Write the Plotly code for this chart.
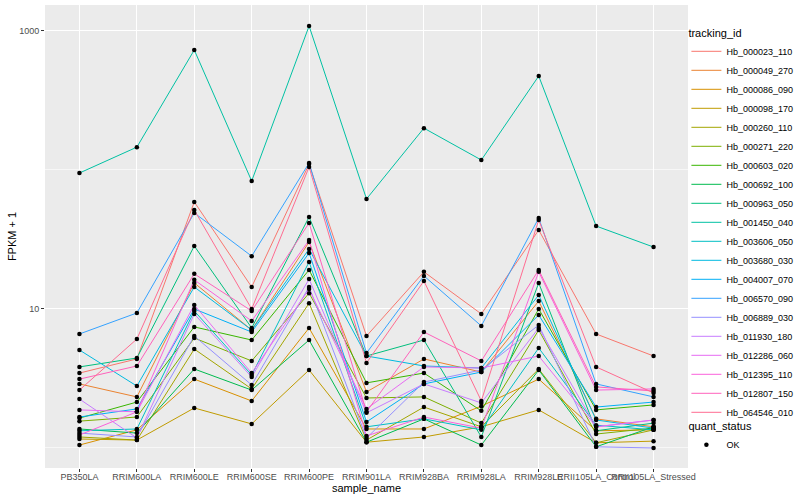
import plotly.graph_objects as go

samples = ["PB350LA", "RRIM600LA", "RRIM600LE", "RRIM600SE", "RRIM600PE", "RRIM901LA",
           "RRIM928BA", "RRIM928LA", "RRIM928LE", "RRII105LA_Control", "RRII105LA_Stressed"]

tracking_ids = ["Hb_000023_110", "Hb_000049_270", "Hb_000086_090", "Hb_000098_170", "Hb_000260_110",
                "Hb_000271_220", "Hb_000603_020", "Hb_000692_100", "Hb_000963_050", "Hb_001450_040",
                "Hb_003606_050", "Hb_003680_030", "Hb_004007_070", "Hb_006570_090", "Hb_006889_030",
                "Hb_011930_180", "Hb_012286_060", "Hb_012395_110", "Hb_012807_150", "Hb_064546_010"]

colors = ["#F8766D", "#EA8331", "#D89000", "#C09B00", "#A3A500", "#7CAE00", "#39B600", "#00BB4E",
          "#00BF7D", "#00C1A3", "#00BFC4", "#00BAE0", "#00B0F6", "#35A2FF", "#9590FF", "#C77CFF",
          "#E76BF3", "#FA62DB", "#FF62BC", "#FF6C91"]

# FPKM + 1 per sample, in the order of `samples`
hb_000023_110 = [3.46, 4.37, 58.9, 14.4, 110.4, 6.39, 18.5, 9.21, 37.0, 6.61, 4.59]
hb_000049_270 = [2.89, 2.33, 15.4, 7.06, 30.3, 2.53, 4.37, 3.52, 11.4, 1.62, 1.42]
hb_000086_090 = [1.05, 1.35, 3.13, 2.18, 7.30, 1.37, 1.37, 2.00, 3.13, 1.33, 1.35]
hb_000098_170 = [1.16, 1.14, 1.94, 1.49, 3.64, 1.10, 1.20, 1.42, 1.88, 1.09, 1.12]
hb_000260_110 = [1.20, 1.14, 5.15, 2.66, 11.0, 1.14, 1.97, 1.42, 3.70, 1.09, 1.35]
hb_000271_220 = [1.56, 1.67, 6.18, 4.23, 13.0, 2.29, 2.33, 1.51, 7.06, 1.26, 1.39]
hb_000603_020 = [1.64, 2.14, 7.43, 5.98, 19.1, 2.94, 3.46, 1.85, 10.0, 1.88, 2.04]
hb_000692_100 = [1.37, 1.28, 3.70, 2.61, 5.98, 1.10, 1.62, 1.05, 3.64, 1.02, 1.42]
hb_000963_050 = [3.83, 4.44, 28.4, 7.30, 45.9, 4.59, 5.98, 1.20, 15.4, 1.33, 1.51]
hb_001450_040 = [95.1, 146.0, 730.0, 83.3, 1086.0, 61.9, 200.0, 118.0, 474.0, 39.5, 27.9]
hb_003606_050 = [1.33, 1.37, 9.68, 3.35, 21.8, 1.42, 1.62, 1.35, 5.24, 1.46, 1.35]
hb_003680_030 = [5.07, 2.79, 14.4, 7.06, 27.0, 4.59, 3.89, 3.76, 12.6, 1.59, 1.39]
hb_004007_070 = [1.67, 1.91, 10.0, 6.83, 25.3, 1.54, 2.89, 3.52, 9.05, 1.97, 2.14]
hb_006570_090 = [6.61, 9.36, 49.1, 24.0, 112.2, 4.82, 17.3, 7.55, 45.1, 2.89, 2.33]
hb_006889_030 = [1.28, 1.20, 6.39, 2.84, 14.4, 1.18, 2.98, 3.64, 7.67, 1.02, 1.00]
hb_011930_180 = [2.25, 1.18, 9.21, 3.24, 16.4, 1.79, 2.89, 2.11, 7.30, 1.42, 1.59]
hb_012286_060 = [1.88, 1.82, 10.7, 3.46, 13.9, 1.91, 3.83, 3.76, 4.59, 1.42, 1.59]
hb_012395_110 = [1.24, 1.82, 16.2, 8.20, 31.3, 1.22, 1.67, 1.39, 18.5, 2.61, 2.66]
hb_012807_150 = [3.13, 3.89, 17.9, 9.68, 41.6, 1.82, 6.83, 4.23, 19.1, 2.75, 2.57]
hb_064546_010 = [2.61, 6.08, 51.5, 10.0, 105.1, 4.09, 15.9, 2.18, 43.7, 3.83, 2.49]

series_values = [hb_000023_110, hb_000049_270, hb_000086_090, hb_000098_170, hb_000260_110,
                 hb_000271_220, hb_000603_020, hb_000692_100, hb_000963_050, hb_001450_040,
                 hb_003606_050, hb_003680_030, hb_004007_070, hb_006570_090, hb_006889_030,
                 hb_011930_180, hb_012286_060, hb_012395_110, hb_012807_150, hb_064546_010]

quant_status = "OK"

FONT = "Liberation Sans, Arial, Helvetica, sans-serif"

fig = go.Figure()
for tid, col, vals in zip(tracking_ids, colors, series_values):
    fig.add_trace(go.Scatter(x=samples, y=vals, mode="lines", name=tid,
                             line=dict(color=col, width=1), legend="legend",
                             hoverinfo="skip"))

all_x = [s for vals in series_values for s in samples]
all_y = [v for vals in series_values for v in vals]
fig.add_trace(go.Scatter(x=all_x, y=all_y, mode="markers", name=quant_status,
                         marker=dict(color="black", size=4.5, symbol="circle"),
                         legend="legend2"))

fig.update_layout(
    width=800, height=500,
    margin=dict(l=45, r=112, t=5, b=32, autoexpand=False),
    paper_bgcolor="white", plot_bgcolor="#EBEBEB",
    font=dict(family=FONT, color="black"),
    showlegend=True,
    legend=dict(xref="container", yref="container", x=0.858, xanchor="left",
                y=0.955, yanchor="top", maxheight=480,
                title=dict(text="tracking_id", font=dict(size=11, color="black")),
                font=dict(size=9, color="black"), bgcolor="rgba(0,0,0,0)",
                tracegroupgap=0, itemwidth=30),
    legend2=dict(xref="container", yref="container", x=0.858, xanchor="left",
                 y=0.168, yanchor="top",
                 title=dict(text="quant_status", font=dict(size=11, color="black")),
                 font=dict(size=9, color="black"), bgcolor="rgba(0,0,0,0)"),
    xaxis=dict(type="category", categoryorder="array", categoryarray=samples,
               range=[-0.6, 10.6], tickangle=0, ticks="outside", ticklen=3,
               tickcolor="#333333", tickfont=dict(size=9, color="#4D4D4D"),
               ticklabelstandoff=-3,
               showgrid=True, gridcolor="white", gridwidth=1, zeroline=False,
               showline=False, automargin=False,
               title=dict(text="sample_name", font=dict(size=11, color="black"), standoff=0)),
    yaxis=dict(type="log", range=[-0.144, 3.187], tickvals=[10, 1000], ticktext=["10", "1000"],
               ticks="outside", ticklen=3, tickcolor="#333333",
               tickfont=dict(size=9, color="#4D4D4D"),
               showgrid=True, gridcolor="white", gridwidth=1, zeroline=False,
               showline=False, automargin=False,
               minor=dict(tickvals=[1, 100], showgrid=True, gridcolor="#F7F7F7",
                          gridwidth=0.6, ticks=""),
               title=dict(text="FPKM + 1", font=dict(size=11, color="black"), standoff=0)),
)

fig.write_html("out.html", config={"displayModeBar": False},
               post_script="document.body.style.margin='0';document.body.style.overflow='hidden';")
